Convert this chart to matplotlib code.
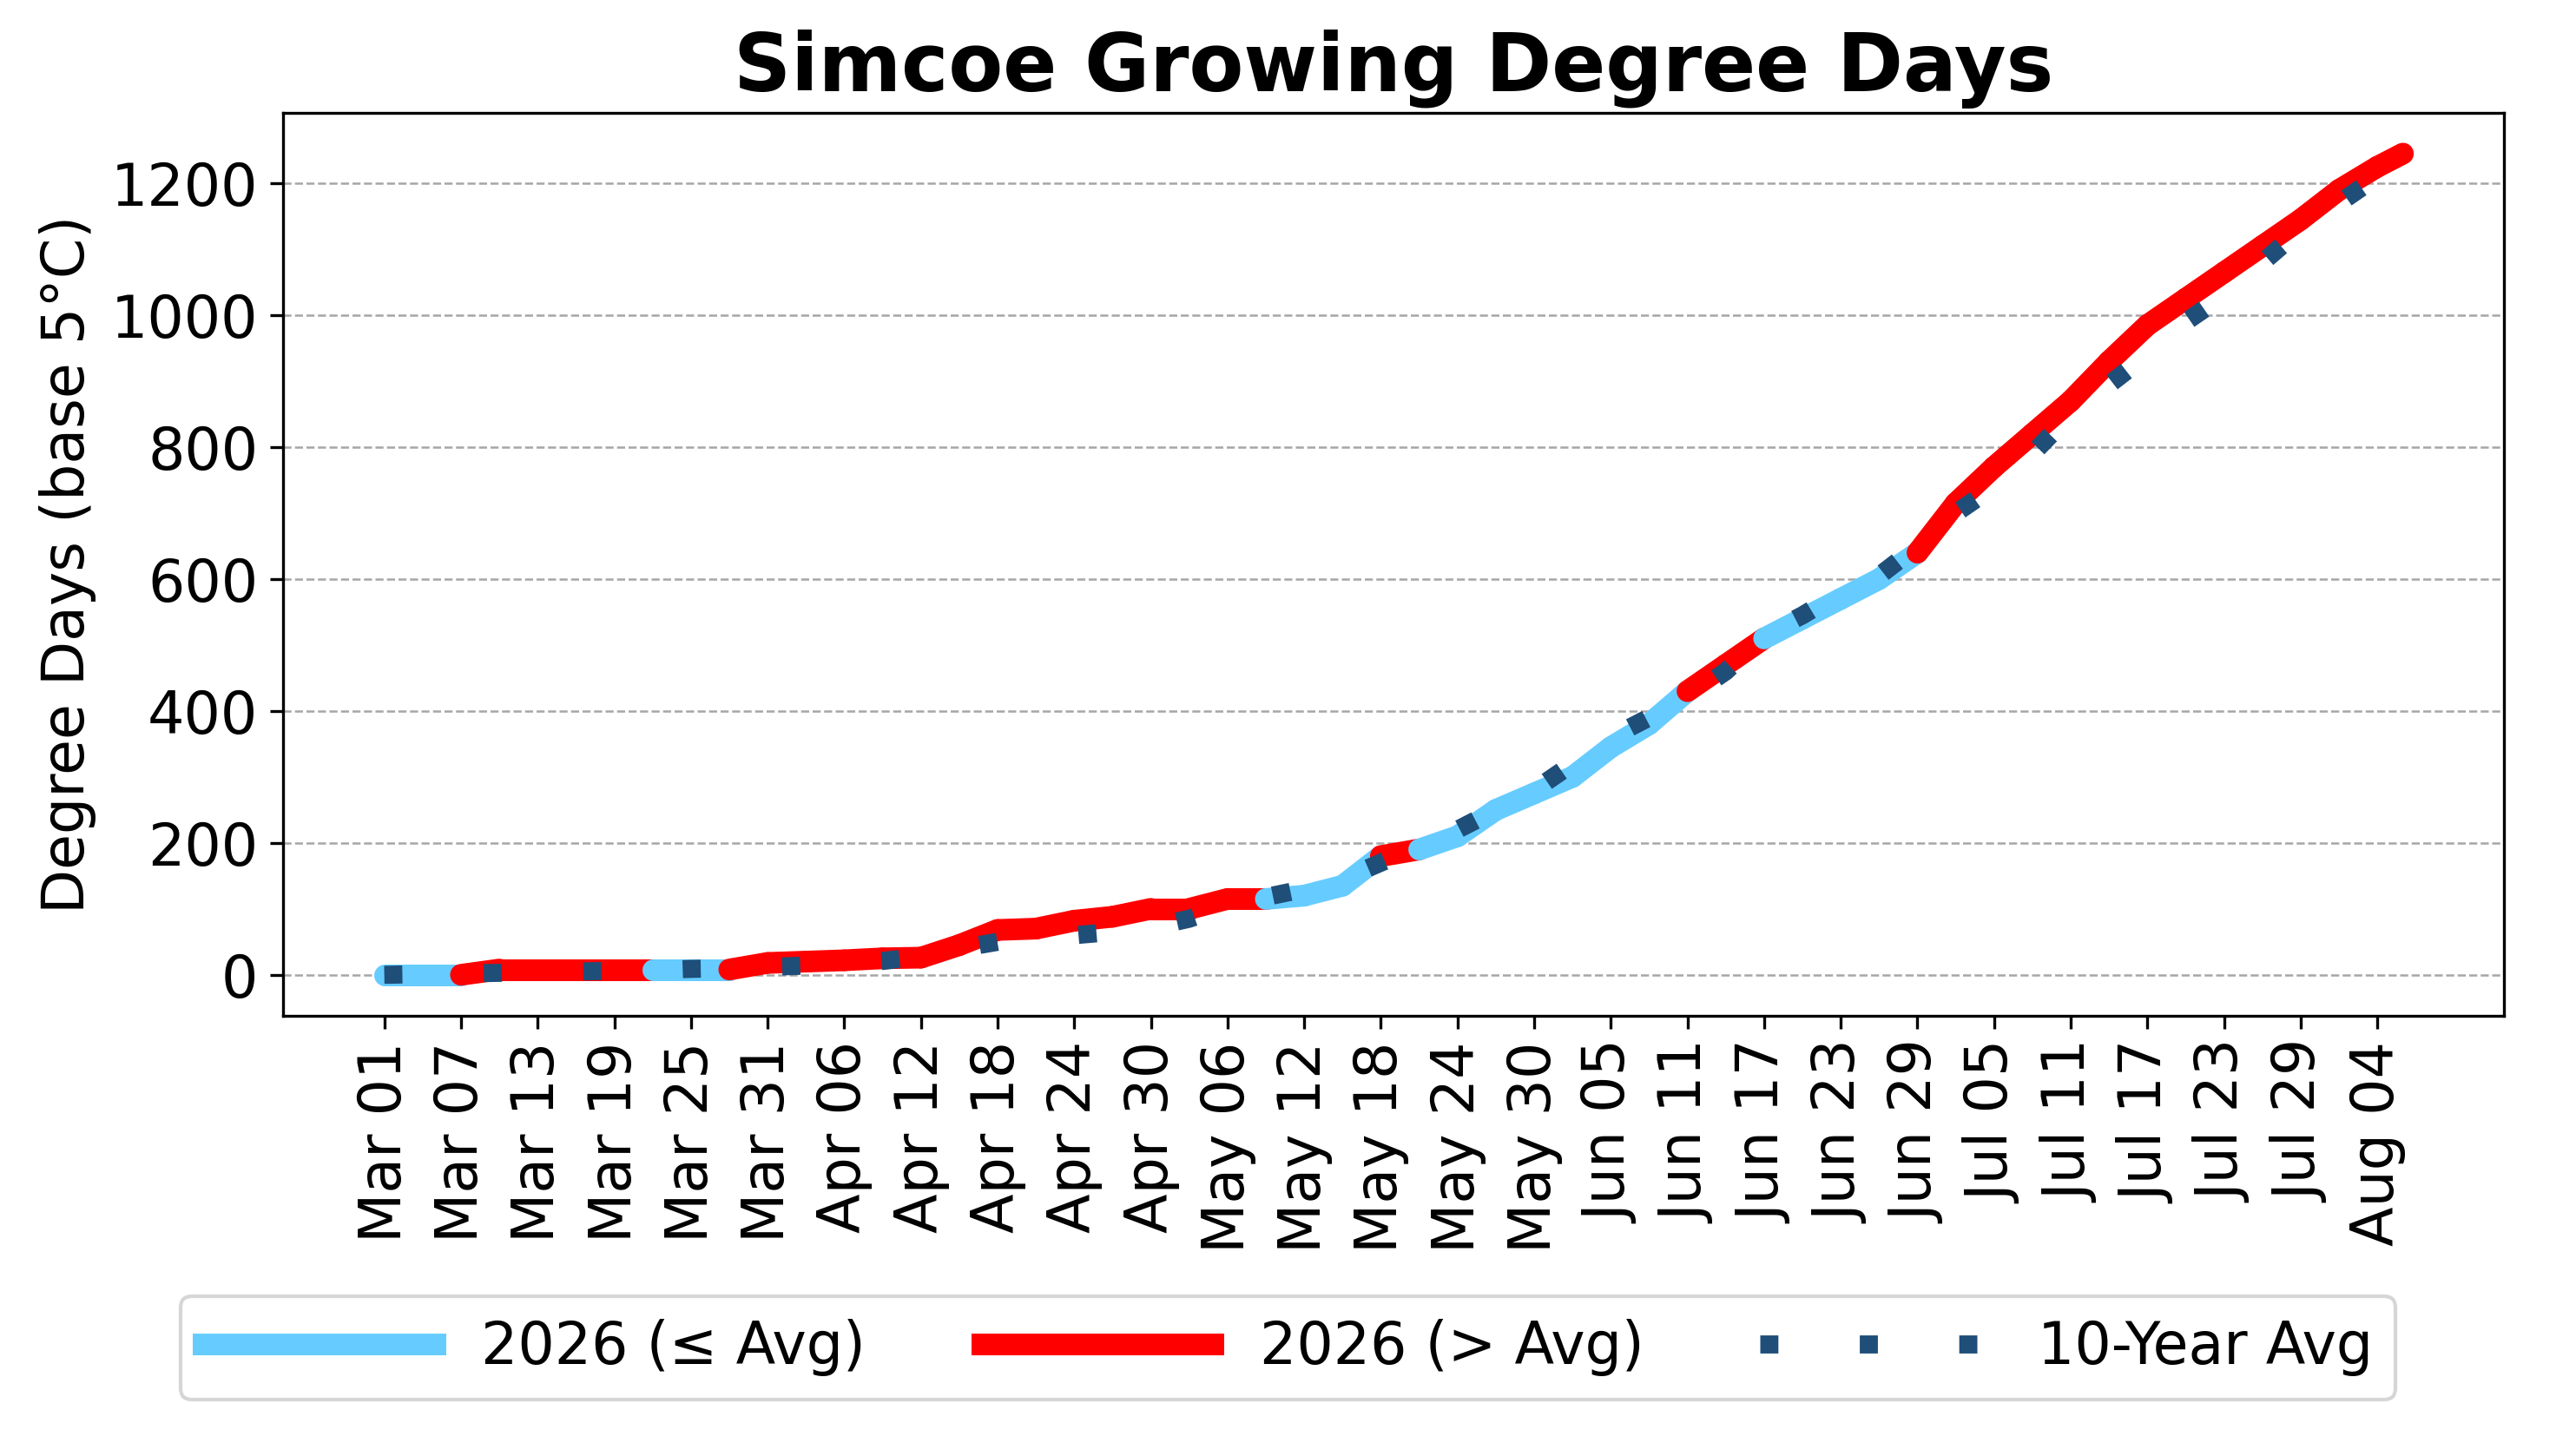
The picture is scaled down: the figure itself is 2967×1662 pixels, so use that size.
import numpy as np
import matplotlib.pyplot as plt
import matplotlib.dates as mdates
from matplotlib.lines import Line2D

##############################################################################
# Data (cumulative growing degree days, base 5C, every 3 days)
##############################################################################
dates = np.arange(np.datetime64('2026-03-01'), np.datetime64('2026-08-06'), 3)
dates = np.append(dates, np.datetime64('2026-08-06'))

gdd_2026 = [0, 0, 0, 8, 8, 8, 8, 8, 8, 8, 18, 20, 22, 25, 26, 45, 68, 70, 82, 88,
            100, 100, 115, 115, 120, 135, 180, 190, 210, 250, 275, 300, 345, 380,
            430, 470, 510, 540, 570, 600, 640, 715, 770, 820, 870, 930, 985, 1025,
            1065, 1105, 1145, 1190, 1225, 1245]
gdd_avg = [0, 1, 2, 3, 4, 5, 6, 7, 9, 10, 12, 14, 17, 21, 28, 40, 50, 55, 60, 65,
           72, 85, 105, 118, 130, 145, 170, 195, 220, 250, 280, 320, 360, 390,
           420, 460, 515, 545, 580, 605, 650, 700, 740, 790, 850, 895, 940, 990,
           1030, 1080, 1130, 1170, 1210, 1240]

x = mdates.date2num(dates.astype('datetime64[D]').astype(object))
gdd_2026 = np.array(gdd_2026)
gdd_avg = np.array(gdd_avg)

##############################################################################
# Plotting
##############################################################################
fig = plt.figure(figsize=(9.89, 5.54), dpi=300)

for i in range(len(x) - 1):
    above = (gdd_2026[i] + gdd_2026[i + 1]) > (gdd_avg[i] + gdd_avg[i + 1])
    color = 'red' if above else '#66ccff'
    plt.plot(x[i:i + 2], gdd_2026[i:i + 2], color=color, linewidth=6,
             solid_capstyle='round')

plt.plot(x, gdd_avg, color='#1f4e79', linestyle=(0, (1, 4.5)), linewidth=5)

ticks = mdates.date2num(np.arange(np.datetime64('2026-03-01'), np.datetime64('2026-08-07'), 6)
                        .astype(object))
plt.xticks(ticks, [mdates.num2date(t).strftime('%b %d') for t in ticks], rotation=90, fontsize=16)
plt.yticks(fontsize=16)
plt.grid(axis='y', linestyle='--', color='gray', alpha=0.7, linewidth=0.6)
plt.title('Simcoe Growing Degree Days', fontsize=22, fontweight='bold')
plt.ylabel('Degree Days (base 5°C)', fontsize=16)

handles = [Line2D([], [], color='#66ccff', linewidth=6),
           Line2D([], [], color='red', linewidth=6),
           Line2D([], [], color='#1f4e79', linestyle=(0, (1, 4.5)), linewidth=5)]
fig.legend(handles, ['2026 (≤ Avg)', '2026 (> Avg)', '10-Year Avg'], loc='lower center',
           bbox_to_anchor=(0.5, 0.01), ncol=3, fontsize=16, handlelength=4)

plt.subplots_adjust(left=0.11, right=0.972, top=0.922, bottom=0.296)
plt.savefig('out.png')
